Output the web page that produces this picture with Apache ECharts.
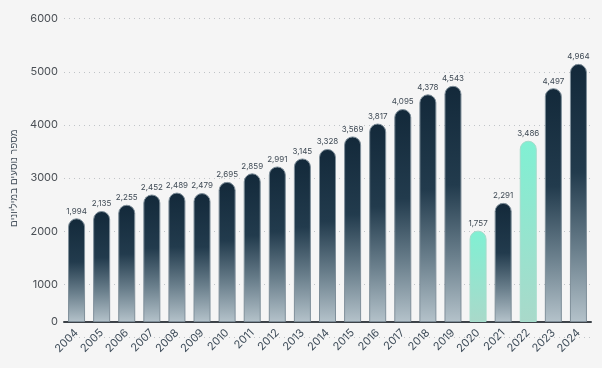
<!DOCTYPE html>
<html>
<head>
<meta charset="utf-8">
<script src="https://cdn.jsdelivr.net/npm/echarts@6/dist/echarts.min.js"></script>
<style>
html,body{margin:0;padding:0;background:#f5f5f5;}
#c{width:602px;height:368px;}
</style>
</head>
<body>
<div id="c"></div>
<script>
const years = ['2004','2005','2006','2007','2008','2009','2010','2011','2012','2013','2014','2015','2016','2017','2018','2019','2020','2021','2022','2023','2024'];
const passengers = [1994,2135,2255,2452,2489,2479,2695,2859,2991,3145,3328,3569,3817,4095,4378,4543,1757,2291,3486,4497,4964];
const highlightYears = ['2020','2022'];
const yTicks = [0,1000,2000,3000,4000,5000,6000];
const yAxisName = 'מספר נוסעים במיליונים';

const FONT = 'Inter, "Noto Sans", sans-serif';
const darkGrad = {type:'linear',x:0,y:0,x2:0,y2:1,colorStops:[
  {offset:0,color:'#13293a'},{offset:0.42,color:'#223b4d'},{offset:0.72,color:'#6a7f8c'},{offset:1,color:'#b4c2ca'}]};
const mintGrad = {type:'linear',x:0,y:0,x2:0,y2:1,colorStops:[
  {offset:0,color:'#80f0d3'},{offset:1,color:'#a9d9ca'}]};

const barData = years.map((y,i)=>{
  const hl = highlightYears.includes(y);
  return {value:passengers[i], itemStyle:{color: hl?mintGrad:darkGrad, borderColor: hl?'#a4dccb':'#7f8f9a'}};
});

const chart = echarts.init(document.getElementById('c'), null, {renderer:'canvas'});
chart.setOption({
  backgroundColor:'#f5f5f5',
  animation:false,
  grid:[
    {left:64, right:11, top:18.7, bottom:30.4},
    {left:64, right:11, top:10, bottom:46}
  ],
  xAxis:[
    {gridIndex:0, type:'category', data:years, show:false},
    {gridIndex:1, type:'category', data:years,
     axisLine:{lineStyle:{color:'#3d4349', width:2}},
     axisTick:{show:false},
     axisLabel:{rotate:45, margin:9, fontSize:11, color:'#3f4d5a', fontFamily:FONT}}
  ],
  yAxis:[
    {gridIndex:0, type:'value', min:yTicks[0], max:yTicks[yTicks.length-1], interval:1000,
     name:yAxisName, nameLocation:'middle', nameRotate:90, nameGap:44,
     nameTextStyle:{fontSize:10, color:'#4a5560', fontFamily:FONT},
     axisLine:{show:false}, axisTick:{show:false},
     axisLabel:{margin:6, fontSize:11, color:'#4a4f55', fontFamily:FONT, formatter:v=> v===0?'':String(v)},
     splitLine:{show:true, lineStyle:{type:[1,4], color:'#c0c4c8', width:1}}},
    {gridIndex:1, type:'value', min:yTicks[0], max:yTicks[yTicks.length-1], interval:1000,
     axisLine:{show:false}, axisTick:{show:false}, splitLine:{show:false},
     axisLabel:{margin:6, fontSize:11, color:'#4a4f55', fontFamily:FONT, formatter:v=> v===0?'0':''}}
  ],
  series:[{
    type:'bar', xAxisIndex:1, yAxisIndex:1,
    data:barData, barWidth:17,
    itemStyle:{borderRadius:[8.5,8.5,0,0], borderWidth:1},
    label:{show:true, position:'top', distance:3, fontSize:8, color:'#3f4a55', fontFamily:FONT,
      formatter:p=>p.value.toLocaleString('en-US')}
  }]
});
</script>
</body>
</html>
